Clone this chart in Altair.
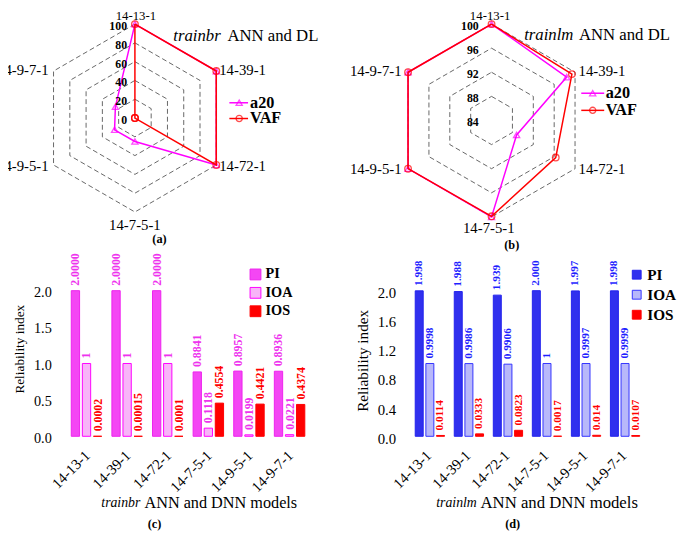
import altair as alt
import pandas as pd

# ---------------- data ----------------
MODELS = ["14-13-1", "14-39-1", "14-72-1", "14-7-5-1", "14-9-5-1", "14-9-7-1"]
METRICS = ["PI", "IOA", "IOS"]

# (a) trainbr radar
A20_BR = [100, 100, 100, 25, 25, 24]
VAF_BR = [100, 100, 100, 0, 0, 0]
RINGS_BR = [20, 40, 60, 80, 100]
TICKS_BR = [0, 20, 40, 60, 80, 100]

# (b) trainlm radar
A20_LM = [100, 98.4, 88.8, 100, 100, 100]
VAF_LM = [100, 99.4, 96.3, 99.9, 100, 100]
RINGS_LM = [88, 92, 96, 100]
TICKS_LM = [84, 88, 92, 96, 100]

# (c) trainbr reliability indices (as printed)
PI_BR = ["2.0000", "2.0000", "2.0000", "0.8841", "0.8957", "0.8936"]
IOA_BR = ["1", "1", "1", "0.1118", "0.0199", "0.0221"]
IOS_BR = ["0.0002", "0.00015", "0.0001", "0.4554", "0.4421", "0.4374"]

# (d) trainlm reliability indices (as printed)
PI_LM = ["1.998", "1.988", "1.939", "2.000", "1.997", "1.998"]
IOA_LM = ["0.9998", "0.9986", "0.9906", "1", "0.9997", "0.9999"]
IOS_LM = ["0.0114", "0.0333", "0.0823", "0.0017", "0.014", "0.0107"]

SERIF = "Liberation Serif"
MAGENTA = "#ff00ff"
RED = "#ff0000"
BLUE = "#1f1fff"

# ---------------- layout (px, page coordinates) ----------------
COL1_X, COL2_X = 62, 412
ROW1_Y, ROW2_Y = 8, 289.5
W1, W2 = 258, 248
SPACING = COL2_X - COL1_X - W1
H1 = ROW2_Y - SPACING - ROW1_Y
H2 = 148

ONE = pd.DataFrame({"k": [0]})


def txt(x, y, s, size=15, weight="normal", style="normal", align="left",
        baseline="middle", angle=0, color="black"):
    return alt.Chart(ONE).mark_text(
        font=SERIF, fontSize=size, fontWeight=weight, fontStyle=style,
        align=align, baseline=baseline, angle=angle, color=color
    ).encode(x=alt.value(x), y=alt.value(y), text=alt.value(s))


def radar(a20, vaf, rmin, rmax, rings, ticks, width, height, cx, cy, R,
          lab_pos, tick_dx, title_x, title_x2, title_y, title_it, leg, cap):
    xdom = [-cx / R, (width - cx) / R]
    ydom = [-(height - cy) / R, cy / R]
    X = alt.X("x:Q", scale=alt.Scale(domain=xdom, nice=False, zero=False), axis=None)
    Y = alt.Y("y:Q", scale=alt.Scale(domain=ydom, nice=False, zero=False), axis=None)
    span = rmax - rmin

    def polar(ch):
        return ch.transform_calculate(
            r=f"(datum.value - {rmin}) / {span}"
        ).transform_calculate(
            x="datum.r * sin(datum.k * PI / 3)",
            y="datum.r * cos(datum.k * PI / 3)",
        )

    ser = pd.DataFrame(
        [{"series": "a20", "k": k, "value": a20[k % 6]} for k in range(7)]
        + [{"series": "VAF", "k": k, "value": vaf[k % 6]} for k in range(7)]
    )
    ring_df = pd.DataFrame([{"level": lv, "k": k, "value": lv} for lv in rings for k in range(7)])
    lab_df = pd.DataFrame([{"model": m, "k": i, "value": rmax} for i, m in enumerate(MODELS)])
    tick_df = pd.DataFrame([{"t": str(t), "k": 0, "value": t} for t in ticks])

    layers = []
    layers.append(polar(alt.Chart(ring_df)).mark_line(
        color="#555555", strokeDash=[5, 3], strokeWidth=0.9
    ).encode(x=X, y=Y, detail="level:Q", order="k:Q"))

    for name, color, shape, size in (("a20", MAGENTA, "triangle-up", 40),
                                      ("VAF", RED, "circle", 45)):
        sub = polar(alt.Chart(ser)).transform_filter(f"datum.series == '{name}'")
        layers.append(sub.mark_line(color=color, strokeWidth=1.5).encode(x=X, y=Y, order="k:Q"))
        layers.append(sub.transform_filter("datum.k < 6").mark_point(
            shape=shape, filled=False, color=color, size=size, strokeWidth=1.3
        ).encode(x=X, y=Y))

    for k, (align, base, dx, dy, fs) in enumerate(lab_pos):
        layers.append(polar(alt.Chart(lab_df)).transform_filter(f"datum.k == {k}").mark_text(
            font=SERIF, fontSize=fs, align=align, baseline=base, dx=dx, dy=dy, color="black"
        ).encode(x=X, y=Y, text="model:N"))

    layers.append(polar(alt.Chart(tick_df)).mark_text(
        font=SERIF, fontSize=12, fontWeight="bold", align="right", baseline="middle",
        dx=tick_dx, dy=2, color="black"
    ).encode(x=X, y=Y, text="t:N"))

    layers.append(txt(title_x, title_y, title_it, size=17, style="italic"))
    layers.append(txt(title_x2, title_y, "ANN and DL", size=17))

    lx1, lx2, lxm, ltx, ly1, ly2 = leg
    for name, color, shape, ly in (("a20", MAGENTA, "triangle-up", ly1),
                                   ("VAF", RED, "circle", ly2)):
        layers.append(alt.Chart(ONE).mark_rule(color=color, strokeWidth=1.5).encode(
            x=alt.value(lx1), x2=alt.value(lx2), y=alt.value(ly)))
        layers.append(alt.Chart(ONE).mark_point(
            shape=shape, filled=False, color=color, size=40, strokeWidth=1.3
        ).encode(x=alt.value(lxm), y=alt.value(ly)))
        layers.append(txt(ltx, ly, name, size=16.5, weight="bold"))

    layers.append(txt(cap[0], cap[1], cap[2], size=12.5, weight="bold", align="center"))
    return alt.layer(*layers).properties(width=width, height=height)


def bars(pi, ioa, ios, fills, strokes, main_color, width, height, cfg):
    rows = []
    for i, m in enumerate(MODELS):
        for metric, arr in (("PI", pi), ("IOA", ioa), ("IOS", ios)):
            rows.append({"model": m, "metric": metric, "value": float(arr[i]), "label": arr[i]})
    df = pd.DataFrame(rows)

    X = alt.X("model:N", sort=MODELS, title=None,
              scale=alt.Scale(paddingInner=0.25, paddingOuter=0.25),
              axis=alt.Axis(labelAngle=-45, labelAlign="right", labelBaseline="top",
                            labelFont=SERIF, labelFontSize=15, labelColor="black",
                            labelPadding=11.5, labelOffset=cfg["xlo"],
                            ticks=False, domain=False, grid=False))
    XO = alt.XOffset("metric:N", sort=METRICS, scale=alt.Scale(paddingInner=0.25))
    Y = alt.Y("value:Q", title=None,
              scale=alt.Scale(domain=[0, 2], nice=False),
              axis=alt.Axis(values=cfg["yticks"], format=".1f", labelFont=SERIF,
                            labelFontSize=cfg["ylfs"], labelColor="black",
                            labelPadding=10, labelOffset=2,
                            ticks=False, domain=False, grid=False))

    leg = alt.Legend(title=None, orient="none", legendX=cfg["legx"], legendY=cfg["legy"],
                     symbolType="square", symbolSize=cfg["symsize"], symbolStrokeWidth=1,
                     labelFont=SERIF, labelFontSize=cfg["legfs"], labelFontWeight="bold",
                     labelColor="black", rowPadding=cfg["rowpad"], labelOffset=3, padding=0)

    bar = alt.Chart(df).mark_bar(strokeWidth=1).encode(
        x=X, xOffset=XO, y=Y,
        color=alt.Color("metric:N", sort=METRICS,
                        scale=alt.Scale(domain=METRICS, range=fills), legend=leg),
        stroke=alt.Stroke("metric:N", sort=METRICS,
                          scale=alt.Scale(domain=METRICS, range=strokes), legend=leg),
    )
    lab1 = alt.Chart(df).transform_filter("datum.metric != 'IOS'").mark_text(
        font=SERIF, fontSize=cfg["vfs"], fontWeight="bold", angle=270, align="left",
        baseline="middle", dx=5, color=main_color
    ).encode(x=X, xOffset=XO, y=Y, text="label:N")
    lab2 = alt.Chart(df).transform_filter("datum.metric == 'IOS'").mark_text(
        font=SERIF, fontSize=cfg["vfs"], fontWeight="bold", angle=270, align="left",
        baseline="middle", dx=5, color=RED
    ).encode(x=X, xOffset=XO, y=Y, text="label:N")

    layers = [bar, lab1, lab2,
              txt(cfg["ytx"], cfg["yty"], "Reliability index", size=cfg["ytfs"],
                  align="center", angle=270),
              txt(cfg["xtx1"], 215.5, cfg["xit"], size=14, style="italic", align="right"),
              txt(cfg["xtx2"], 215.5, "ANN and DNN models", size=cfg["xtfs"]),
              txt(cfg["capx"], 237.5, cfg["cap"], size=12.5, weight="bold", align="center")]
    return alt.layer(*layers).properties(width=width, height=height)


TOP_DY = 5 - 19  # em-box top a little above the page edge, glyphs just inside it

panel_a = radar(
    A20_BR, VAF_BR, 0, 100, RINGS_BR, TICKS_BR, W1, H1,
    cx=137 - COL1_X, cy=114.5 - ROW1_Y, R=95.5,
    lab_pos=[("center", "top", 1, TOP_DY, 13), ("left", "middle", 3, -1, 15),
             ("left", "middle", 3, 1, 15), ("center", "middle", 0, 13.5, 15),
             ("right", "middle", -5, 1, 15), ("right", "middle", -5, -1, 15)],
    tick_dx=-8, title_x=176 - COL1_X, title_x2=231 - COL1_X, title_y=31.7 - ROW1_Y,
    title_it="trainbr",
    leg=(233 - COL1_X, 252 - COL1_X, 243 - COL1_X, 254 - COL1_X, 99 - ROW1_Y, 115 - ROW1_Y),
    cap=(162 - COL1_X, 238 - ROW1_Y, "(a)"),
)

panel_b = radar(
    A20_LM, VAF_LM, 84, 100, RINGS_LM, TICKS_LM, W2, H1,
    cx=499.5 - COL2_X, cy=117 - ROW1_Y, R=98,
    lab_pos=[("center", "top", -1.5, TOP_DY, 13), ("left", "middle", 3.6, -1.3, 15),
             ("left", "middle", 3.6, 0, 15), ("center", "middle", -2.8, 11.7, 15),
             ("right", "middle", -6.6, 0, 15), ("right", "middle", -6.6, -1.3, 15)],
    tick_dx=-13, title_x=532.7 - COL2_X, title_x2=588.3 - COL2_X, title_y=30 - ROW1_Y,
    title_it="trainlm",
    leg=(590.7 - COL2_X, 614 - COL2_X, 602.3 - COL2_X, 615.5 - COL2_X, 89.3 - ROW1_Y, 106.7 - ROW1_Y),
    cap=(520 - COL2_X, 243.3 - ROW1_Y, "(b)"),
)

panel_c = bars(
    PI_BR, IOA_BR, IOS_BR,
    fills=["#f446f4", "#f8b4f8", RED], strokes=["#ee22ee", MAGENTA, RED],
    main_color="#ee33ee", width=W1, height=H2,
    cfg=dict(xlo=-4, yticks=[0, 0.5, 1.0, 1.5, 2.0], ylfs=14.5, legx=190.3, legy=-23.75,
             symsize=121, legfs=14.5, rowpad=2.7, vfs=12, ytx=20 - COL1_X, yty=349 - ROW2_Y,
             ytfs=13.5, xtx1=142.5 - COL1_X, xtx2=146.7 - COL1_X, xit="trainbr", xtfs=16.5,
             capx=157 - COL1_X, cap="(c)"),
)

panel_d = bars(
    PI_LM, IOA_LM, IOS_LM,
    fills=["#3030ee", "#b8b8fa", RED], strokes=["#2222ee", "#3333ff", RED],
    main_color=BLUE, width=W2, height=H2,
    cfg=dict(xlo=-6, yticks=[0, 0.2, 0.4, 0.6, 0.8, 1.0, 1.2, 1.4, 1.6, 1.8, 2.0], ylfs=15,
             legx=227.3, legy=-24, symsize=81, legfs=15.5, rowpad=3.35, vfs=11.5,
             ytx=369.3 - COL2_X, yty=360.8 - ROW2_Y, ytfs=15.5,
             xtx1=484.5 - COL2_X, xtx2=488.3 - COL2_X, xit="trainlm", xtfs=17,
             capx=521 - COL2_X, cap="(d)"),
)

chart = alt.concat(
    panel_a, panel_b, panel_c, panel_d, columns=2, spacing=SPACING, bounds="flush"
).resolve_scale(
    x="independent", y="independent", color="independent", stroke="independent",
    xOffset="independent"
).resolve_legend(color="independent", stroke="independent").properties(
    padding={"left": -12, "top": -3, "right": 0, "bottom": 0},
    background="white",
).configure_view(stroke=None)

chart.save("out.html", embed_options={"renderer": "svg", "actions": False})
